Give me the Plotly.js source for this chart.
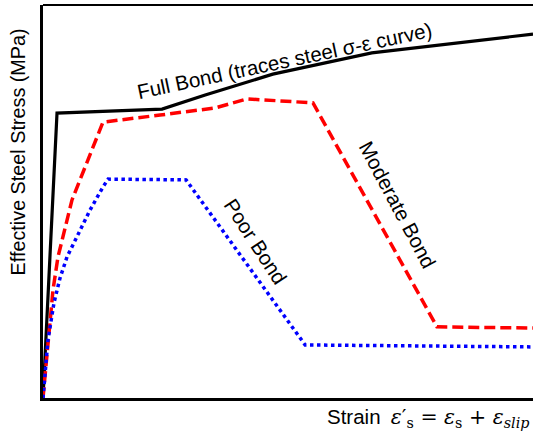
<!DOCTYPE html>
<html>
<head>
<meta charset="utf-8">
<script src="https://cdn.plot.ly/plotly-3.0.1.min.js"></script>
<style>html,body{margin:0;padding:0;background:#fff;}#chart{width:533px;height:437px;}</style>
</head>
<body>
<div id="chart"></div>
<script>
// Strain (arbitrary units) and effective steel stress (arbitrary units)
var fullStrain = [0, 2.86, 24.3, 33.1, 46.9, 67.1, 100];
var fullStress = [0, 72.5, 73.5, 77.1, 82.4, 87.8, 92.6];

var modStrain = [0, 1.22, 2.04, 3.06, 4.49, 5.92, 9.18, 12.24, 23.9, 35.1, 41.6, 55.1, 80.4, 100];
var modStress = [0, 17.3, 27.5, 35.9, 43.3, 50.4, 60.6, 70.2, 72.0, 73.8, 76.1, 75.1, 18.1, 17.8];

var poorStrain = [0, 1.02, 2.24, 3.47, 4.9, 7.55, 9.59, 12.24, 13.3, 29.2, 53.5, 100];
var poorStress = [0, 14.8, 24.2, 30.5, 35.9, 42.7, 47.8, 53.7, 55.7, 55.5, 13.5, 13.0];

var labels = ["Full Bond (traces steel σ-ε curve)", "Moderate Bond", "Poor Bond"];
var labelX = [49.3, 72.4, 43.4];
var labelY = [86.0, 49.3, 39.8];
var labelAngle = [-12, 62, 57];

var yTitle = "Effective Steel Stress (MPa)";
var xTitleWord = "Strain";

var traces = [
  {x: fullStrain, y: fullStress, mode: "lines", line: {color: "#000000", width: 3.2}, hoverinfo: "skip"},
  {x: modStrain, y: modStress, mode: "lines", line: {color: "#ff0000", width: 3.5, dash: "11px,5px"}, hoverinfo: "skip"},
  {x: poorStrain, y: poorStress, mode: "lines", line: {color: "#0000ff", width: 3.5, dash: "3.5px,3.5px"}, hoverinfo: "skip"}
];

var annotations = labels.map(function (t, i) {
  return {x: labelX[i], y: labelY[i], xref: "x", yref: "y", text: t, showarrow: false,
    textangle: labelAngle[i], font: {family: "Liberation Sans, Arial, sans-serif", size: 20.5, color: "#000"}};
});
annotations.push({
  xref: "paper", yref: "paper", x: 1, y: 0, xanchor: "right", yanchor: "top", yshift: -5, xshift: -2,
  showarrow: false,
  text: '<span style="font-family:Liberation Sans, Arial, sans-serif;">' + xTitleWord + '</span>  ' +
        '<span style="font-family:DejaVu Serif, serif;"><i>ε</i>′<sub>s</sub> = <i>ε</i><sub>s</sub> + <i>ε</i><sub><i>slip</i></sub></span>',
  font: {family: "Liberation Serif, serif", size: 20.5, color: "#000"}
});
annotations.push({
  xref: "paper", yref: "paper", x: 0, y: 0.625, xanchor: "center", yanchor: "middle", xshift: -25,
  showarrow: false, textangle: -90, text: yTitle,
  font: {family: "Liberation Sans, Arial, sans-serif", size: 19.8, color: "#000"}
});

var layout = {
  width: 533, height: 437,
  margin: {l: 43, r: 0, t: 5, b: 39, pad: 0},
  paper_bgcolor: "#fff", plot_bgcolor: "#fff",
  showlegend: false,
  xaxis: {range: [0, 100], showgrid: false, zeroline: false, showticklabels: false, ticks: "",
          showline: true, linecolor: "#000", linewidth: 3, fixedrange: true},
  yaxis: {range: [0, 100], showgrid: false, zeroline: false, showticklabels: false, ticks: "",
          showline: true, linecolor: "#000", linewidth: 3, fixedrange: true},
  shapes: [{type: "line", xref: "paper", yref: "paper", x0: 0, x1: 1, y0: 1, y1: 1,
            line: {color: "#000", width: 2}}],
  annotations: annotations
};

Plotly.newPlot("chart", traces, layout, {displayModeBar: false, staticPlot: true});
</script>
</body>
</html>
